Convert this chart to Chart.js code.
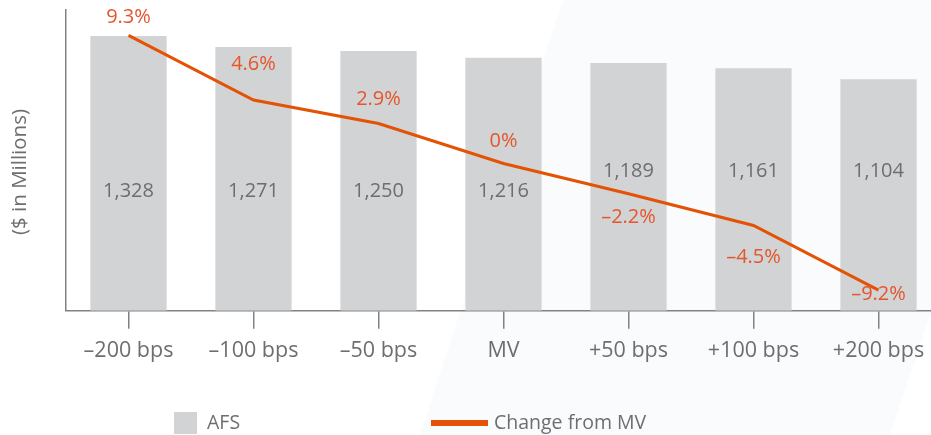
<!DOCTYPE html>
<html>
<head>
<meta charset="utf-8">
<script src="https://cdn.jsdelivr.net/npm/chart.js@4.4.1/dist/chart.umd.min.js"></script>
<style>
    html, body { margin: 0; padding: 0; background: #fff; overflow: hidden; }
    #wrap { position: relative; width: 945px; height: 435px; }
</style>
</head>
<body>
<div id="wrap"><canvas id="rateChart" width="945" height="435"></canvas></div>
<script>
// chart data
const categories = ['\u2013200 bps', '\u2013100 bps', '\u201350 bps', 'MV', '+50 bps', '+100 bps', '+200 bps'];
const afsValues = [1328, 1271, 1250, 1216, 1189, 1161, 1104];
const changeValues = [9.3, 4.6, 2.9, 0, -2.2, -4.5, -9.2];

// label placement (pixels)
const pctLabelOffsets = [-18, -36, -24, -22, 24, 32, 4];
const afsLabelRise = [119, 119, 119, 119, 139, 139, 139];

const AFS_MIN = -90;
const FONT = '"Open Sans", sans-serif';
const GREY_TEXT = '#6d6e71';
const BAR_COLOR = '#d1d3d4';
const LINE_COLOR = '#e35205';
const PCT_COLOR = '#e5562c';

function fmtPct(v) {
    if (v === 0) return '0%';
    return (v < 0 ? '\u2013' : '') + Math.abs(v).toFixed(1) + '%';
}

// faint diagonal panel behind the right half
const backdrop = {
    id: 'backdrop',
    beforeDraw(chart) {
        const ctx = chart.ctx;
        ctx.save();
        ctx.fillStyle = '#fafbfd';
        ctx.beginPath();
        ctx.moveTo(563, 0);
        ctx.lineTo(945, 0);
        ctx.lineTo(945, 270);
        ctx.lineTo(890, 435);
        ctx.lineTo(420, 435);
        ctx.quadraticCurveTo(500, 190, 563, 0);
        ctx.closePath();
        ctx.fill();
        ctx.restore();
    }
};

const valueLabels = {
    id: 'valueLabels',
    afterDatasetsDraw(chart) {
        const ctx = chart.ctx;
        ctx.save();
        ctx.textAlign = 'center';
        ctx.textBaseline = 'middle';

        ctx.font = '20px ' + FONT;
        ctx.fillStyle = GREY_TEXT;
        chart.getDatasetMeta(0).data.forEach(function(bar, i) {
            ctx.fillText(afsValues[i].toLocaleString('en-US'), bar.x, bar.base - afsLabelRise[i]);
        });

        ctx.fillStyle = PCT_COLOR;
        chart.getDatasetMeta(1).data.forEach(function(pt, i) {
            ctx.fillText(fmtPct(changeValues[i]), pt.x, pt.y + pctLabelOffsets[i]);
        });

        // y title
        ctx.font = '20.5px ' + FONT;
        ctx.fillStyle = GREY_TEXT;
        ctx.translate(20, 172);
        ctx.rotate(-Math.PI / 2);
        ctx.fillText('($ in Millions)', 0, 0);
        ctx.restore();
    }
};

const bottomLegend = {
    id: 'bottomLegend',
    afterDraw(chart) {
        const ctx = chart.ctx;
        const ds = chart.data.datasets;
        ctx.save();
        ctx.fillStyle = ds[0].backgroundColor;
        ctx.fillRect(174, 412, 23, 22);
        ctx.strokeStyle = ds[1].borderColor;
        ctx.lineWidth = 6;
        ctx.beginPath();
        ctx.moveTo(431, 423);
        ctx.lineTo(488, 423);
        ctx.stroke();
        ctx.font = '19.5px ' + FONT;
        ctx.fillStyle = GREY_TEXT;
        ctx.textBaseline = 'middle';
        ctx.fillText(ds[0].label, 207, 423);
        ctx.fillText(ds[1].label, 494, 423);
        ctx.restore();
    }
};

const ctx = document.getElementById('rateChart').getContext('2d');
const rateChart = new Chart(ctx, {
    type: 'bar',
    data: {
        labels: categories,
        datasets: [{
            label: 'AFS',
            data: afsValues,
            base: AFS_MIN,
            backgroundColor: BAR_COLOR,
            barPercentage: 0.61,
            categoryPercentage: 1,
            yAxisID: 'y',
            order: 2
        }, {
            type: 'line',
            label: 'Change from MV',
            data: changeValues,
            borderColor: LINE_COLOR,
            borderWidth: 3,
            pointRadius: 0,
            tension: 0,
            fill: false,
            yAxisID: 'y2',
            order: 1
        }]
    },
    options: {
        responsive: false,
        animation: false,
        layout: {
            padding: { left: 66, right: 4, top: 10, bottom: 62.5 }
        },
        plugins: {
            legend: { display: false },
            tooltip: { enabled: false }
        },
        scales: {
            x: {
                grid: {
                    offset: false,
                    drawOnChartArea: false,
                    drawTicks: true,
                    tickLength: 18,
                    color: '#808285',
                    lineWidth: 1.5
                },
                border: { color: '#808285', width: 1.5 },
                ticks: {
                    color: GREY_TEXT,
                    padding: 9,
                    maxRotation: 0,
                    font: { family: FONT, size: 21.5 }
                }
            },
            y: {
                min: AFS_MIN,
                max: 1462,
                grid: { display: false, drawTicks: false },
                border: { color: '#808285', width: 1.5 },
                ticks: { display: false }
            },
            y2: {
                position: 'right',
                display: false,
                min: -10.69,
                max: 11.14
            }
        }
    },
    plugins: [backdrop, valueLabels, bottomLegend]
});
</script>
</body>
</html>
